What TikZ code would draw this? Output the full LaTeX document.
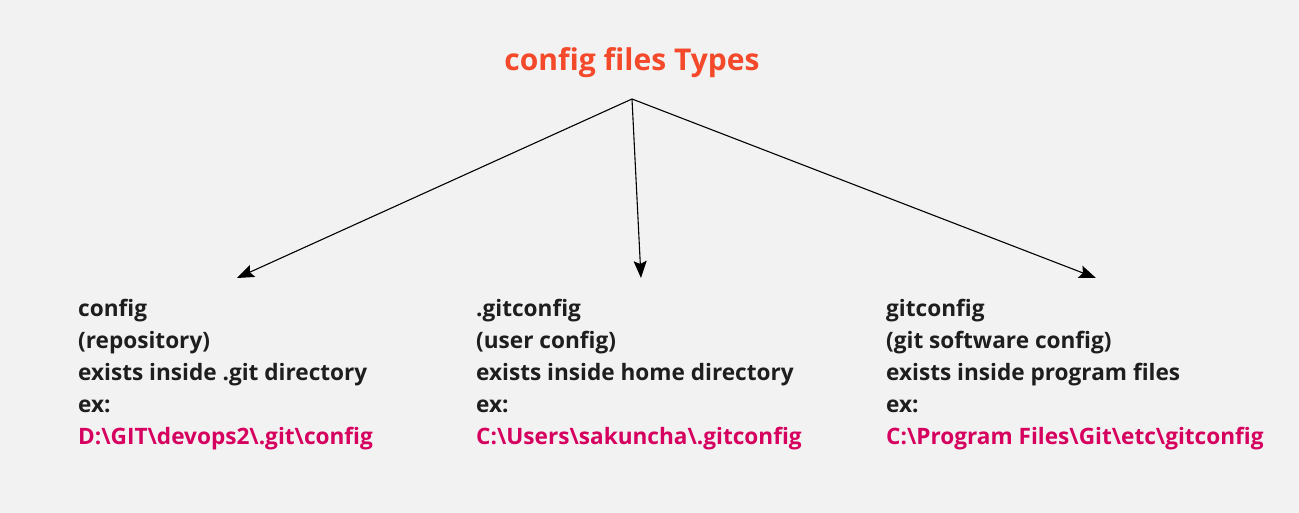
\documentclass[tikz,border=0pt]{standalone}
\usepackage{fontspec}
\setmainfont{Open Sans}
\usetikzlibrary{arrows.meta}
\definecolor{bg}{HTML}{F2F2F2}
\definecolor{titlered}{HTML}{F4492A}
\definecolor{pathpink}{HTML}{D6005F}
\definecolor{ink}{HTML}{1E1E1E}
\tikzset{
  info/.style={anchor=north west, align=left, inner sep=0pt, text=ink,
    font=\bfseries\fontsize{22.6}{32}\selectfont},
  branch/.style={draw, line width=1.1pt, -{Stealth[length=17pt, width=13pt, inset=3pt]}}
}
\newcommand{\gitpath}[1]{\textcolor{pathpink}{#1}}
\begin{document}
\begin{tikzpicture}[x=1pt, y=-1pt]
\fill[bg] (0,0) rectangle (1299,513);
\useasboundingbox (0,0) rectangle (1299,513);

\node[text=titlered, font=\bfseries\fontsize{30}{36}\selectfont] (title) at (632,63) {config files Types};
\coordinate (root) at (632,99);

\node[info] (repo) at (78,299.5) {config\\(repository)\\exists inside .git directory\\ex:\\\gitpath{D:\textbackslash GIT\textbackslash devops2\textbackslash .git\textbackslash config}};
\node[info] (user) at (476,299.5) {.gitconfig\\(user config)\\exists inside home directory\\ex:\\\gitpath{C:\textbackslash Users\textbackslash sakuncha\textbackslash .gitconfig}};
\node[info] (system) at (886,299.5) {gitconfig\\(git software config)\\exists inside program files\\ex:\\\gitpath{C:\textbackslash Program Files\textbackslash Git\textbackslash etc\textbackslash gitconfig}};

\coordinate (repotip) at (237,278);
\coordinate (usertip) at (641,278);
\coordinate (systemtip) at (1096,278);
\path[branch] (root) -- (repotip);
\path[branch] (root) -- (usertip);
\path[branch] (root) -- (systemtip);
\end{tikzpicture}
\end{document}
